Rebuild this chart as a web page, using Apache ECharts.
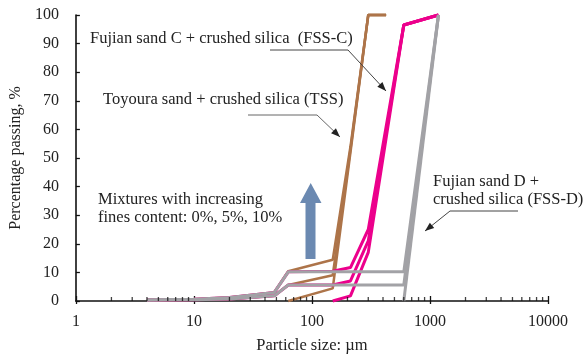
<!DOCTYPE html>
<html>
<head>
<meta charset="utf-8">
<script src="https://cdn.jsdelivr.net/npm/echarts@6/dist/echarts.min.js"></script>
<style>html,body{margin:0;padding:0;background:#fff}#c{width:587px;height:359px}</style>
</head>
<body>
<div id="c"></div>
<script>
// ---- data (particle size in µm, percentage passing in %) ----
const finesSizes10 = [4, 10, 20, 48];
const finesPass10  = [0.4, 0.6, 1.2, 3.0];
const finesSizes5  = [4, 10, 20, 48];
const finesPass5   = [0.3, 0.4, 0.7, 1.8];

const fssC_sizes = [63, 150, 212, 300, 425];
const fssC_0  = [0, 4.4, 52, 100, 100];
const fssC_5  = [5.6, 9.0, 53, 100, 100];
const fssC_10 = [10.4, 14.4, 54, 100, 100];

const tss_sizes0 = [150, 212, 300, 600, 1180];
const tss_0  = [0, 1.8, 17, 96.5, 100];
const tss_sizes = [63, 150, 212, 300, 600, 1180];
const tss_5  = [5.6, 5.6, 7.0, 21, 96.5, 100];
const tss_10 = [10.2, 10.4, 11.7, 25, 96.5, 100];

const fssD_sizes0 = [600, 1180];
const fssD_0  = [0, 100];
const fssD_sizes = [63, 600, 1180];
const fssD_5  = [5.6, 5.6, 100];
const fssD_10 = [10.2, 10.2, 100];

const xTicks = [1, 10, 100, 1000, 10000];
const minorMultipliers = [2, 3, 4, 5, 6, 7, 8, 9];

const brown = '#ad7449', pink = '#ec008c', gray = '#a2a2a6';
const font = '"Liberation Serif", "Times New Roman", serif';

function pts(sizes, vals, fs, fv) {
  const out = [];
  if (fs) for (let i = 0; i < fs.length; i++) out.push([fs[i], fv[i]]);
  for (let i = 0; i < sizes.length; i++) out.push([sizes[i], vals[i]]);
  return out;
}
function line(name, data, color, w) {
  return { name, type: 'line', data, symbol: 'none', lineStyle: { color, width: w }, itemStyle: { color }, clip: false, z: 3 };
}
const minorData = [];
for (let d = 0; d < xTicks.length - 1; d++) for (const m of minorMultipliers) minorData.push([xTicks[d] * m, 0]);

const series = [
  line('FSS-C 0%',  pts(fssC_sizes, fssC_0), brown, 2.5),
  line('FSS-C 5%',  pts(fssC_sizes, fssC_5, finesSizes5, finesPass5), brown, 2.5),
  line('FSS-C 10%', pts(fssC_sizes, fssC_10, finesSizes10, finesPass10), brown, 2.5),
  line('TSS 0%',  pts(tss_sizes0, tss_0), pink, 3),
  line('TSS 5%',  pts(tss_sizes, tss_5, finesSizes5, finesPass5), pink, 3),
  line('TSS 10%', pts(tss_sizes, tss_10, finesSizes10, finesPass10), pink, 3),
  line('FSS-D 0%',  pts(fssD_sizes0, fssD_0), gray, 3),
  line('FSS-D 5%',  pts(fssD_sizes, fssD_5, finesSizes5, finesPass5), gray, 3),
  line('FSS-D 10%', pts(fssD_sizes, fssD_10, finesSizes10, finesPass10), gray, 3),
  { type: 'scatter', data: minorData, symbol: 'rect', symbolSize: [1.3, 4], symbolOffset: [0, -2],
    itemStyle: { color: '#111' }, silent: true, clip: false, z: 10 }
];

function arrowHead(p0, p1, len, half) {
  const dx = p1[0] - p0[0], dy = p1[1] - p0[1];
  const L = Math.hypot(dx, dy), ux = dx / L, uy = dy / L;
  const bx = p1[0] - ux * len, by = p1[1] - uy * len;
  return [[p1[0], p1[1]], [bx - uy * half, by + ux * half], [bx + uy * half, by - ux * half]];
}
function leader(points, color) {
  const n = points.length;
  return [
    { type: 'polyline', shape: { points }, style: { stroke: color, lineWidth: 1, fill: null }, z: 20 },
    { type: 'polygon', shape: { points: arrowHead(points[n - 2], points[n - 1], 9, 3.5) }, style: { fill: '#222' }, z: 20 }
  ];
}
function txt(x, y, t, align) {
  return { type: 'text', x, y, z: 20, style: { text: t, font: '16.5px ' + font, fill: '#222', align: align || 'left', verticalAlign: 'middle' } };
}

const chart = echarts.init(document.getElementById('c'));
chart.setOption({
  animation: false,
  backgroundColor: '#fff',
  grid: { left: 73, right: 39, top: 15, bottom: 57 },
  xAxis: [{
    type: 'log', logBase: 10, min: 1, max: 10000,
    name: 'Particle size: µm', nameLocation: 'middle', nameGap: 36,
    nameTextStyle: { fontFamily: font, fontSize: 16.5, color: '#222' },
    axisLine: { lineStyle: { color: '#111', width: 1.6 } },
    axisTick: { inside: true, length: 5, lineStyle: { color: '#111', width: 1.3 } },
    axisLabel: { fontFamily: font, fontSize: 16, color: '#222', margin: 13, formatter: v => String(Math.round(v)) },
    splitLine: { show: false }
  }, {
    type: 'log', logBase: 10, min: 1, max: 10000, position: 'bottom',
    axisLine: { show: false },
    axisTick: { inside: false, length: 3, lineStyle: { color: '#111', width: 1.3 } },
    axisLabel: { show: false }, splitLine: { show: false }
  }],
  yAxis: {
    type: 'value', min: 0, max: 100, interval: 10,
    name: 'Percentage passing, %', nameLocation: 'middle', nameGap: 49, nameRotate: 90,
    nameTextStyle: { fontFamily: font, fontSize: 16, color: '#222' },
    axisLine: { show: true, lineStyle: { color: '#111', width: 1.6 } },
    axisTick: { show: true, inside: true, length: 4, lineStyle: { color: '#111', width: 1.3 } },
    axisLabel: { fontFamily: font, fontSize: 16, color: '#222', margin: 17 },
    splitLine: { show: false }
  },
  series,
  graphic: [
    txt(90, 39, 'Fujian sand C + crushed silica  (FSS-C)'),
    ...leader([[270, 50], [348, 50], [386, 91]], '#444'),
    txt(103, 100, 'Toyoura sand + crushed silica (TSS)'),
    ...leader([[248, 115], [317, 115], [340, 137]], '#666'),
    txt(98, 200, 'Mixtures with increasing'),
    txt(98, 218, 'fines content: 0%, 5%, 10%'),
    txt(433, 182, 'Fujian sand D +'),
    txt(433, 200, 'crushed silica (FSS-D)'),
    ...leader([[518, 211], [450, 211], [425, 231]], '#444'),
    { type: 'polygon', z: 20, shape: { points: [[310.7, 183], [300, 203], [305.5, 203], [305.5, 259], [315.5, 259], [315.5, 203], [321.5, 203]] },
      style: { fill: '#6b89b1' } }
  ]
});
</script>
</body>
</html>
